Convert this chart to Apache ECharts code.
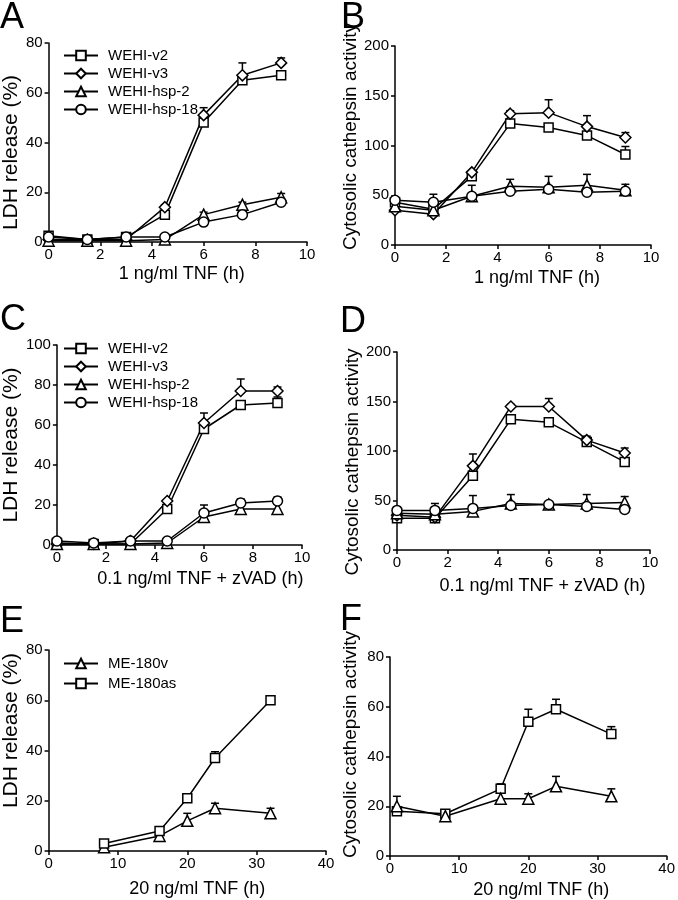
<!DOCTYPE html>
<html>
<head>
<meta charset="utf-8">
<script src="https://cdn.jsdelivr.net/npm/echarts@6/dist/echarts.min.js"></script>
<style>
html,body{margin:0;padding:0;background:#fff;}
#c{width:678px;height:900px;}
</style>
</head>
<body>
<div id="c"></div>
<script>
// ---------- DATA ----------
const xWEHI = [0, 1.5, 3, 4.5, 6, 7.5, 9];
const xME_E = [8, 16, 20, 24, 32];
const xME_F = [1, 8, 16, 20, 24, 32];

// Panel A: LDH release (%), 1 ng/ml TNF
const aV2 = [2.5, 1, 2, 11, 48, 65, 67];
const aV2Err = [0, 0, 0, 0, 0, 0, 1];
const aV3 = [1, 1, 1, 14, 51, 67, 72];
const aV3Err = [0, 0, 0, 1, 3, 5, 2];
const aH2 = [0.5, 0.5, 0.5, 1, 11, 15, 18];
const aH2Err = [0, 0, 0, 0, 1, 1, 1.5];
const aH18 = [2, 1, 2, 2, 8, 11, 16];
const aH18Err = [0, 0, 0, 0, 0, 0, 1];

// Panel B: cytosolic cathepsin activity, 1 ng/ml TNF
const bV2 = [43, 36, 69, 122, 118, 110, 91];
const bV2Err = [0, 0, 0, 3, 2, 2, 8];
const bV3 = [35, 31, 73, 132, 133, 119, 108];
const bV3Err = [0, 0, 0, 3, 13, 11, 5];
const bH2 = [39, 35, 49, 59, 58, 60, 55];
const bH2Err = [0, 0, 11, 7, 11, 11, 6];
const bH18 = [45, 43, 49, 54, 56, 53, 54];
const bH18Err = [3, 8, 0, 0, 0, 0, 0];

// Panel C: LDH release (%), 0.1 ng/ml TNF + zVAD
const cV2 = [1, 0.5, 0.5, 18, 58, 70, 71];
const cV2Err = [0, 0, 0, 0, 0, 2, 3];
const cV3 = [0.5, 0.5, 2, 22, 61, 77, 77];
const cV3Err = [0, 0, 0, 0, 5, 6, 2];
const cH2 = [0.5, 0.5, 0.5, 1, 14, 18, 18];
const cH2Err = [0, 0, 0, 0, 0, 0, 0];
const cH18 = [2, 1, 2, 2, 16, 21, 22];
const cH18Err = [0, 0, 0, 0, 4, 2, 2];

// Panel D: cytosolic cathepsin activity, 0.1 ng/ml TNF + zVAD
const dV2 = [32, 32, 75, 132, 129, 109, 89];
const dV2Err = [0, 0, 0, 4, 3, 0, 0];
const dV3 = [35, 33, 85, 145, 145, 111, 98];
const dV3Err = [0, 0, 12, 2, 8, 4, 5];
const dH2 = [37, 36, 39, 47, 46, 47, 48];
const dH2Err = [0, 0, 0, 9, 0, 9, 6];
const dH18 = [40, 40, 42, 45, 46, 44, 41];
const dH18Err = [0, 7, 13, 0, 2, 0, 0];

// Panel E: LDH release (%), 20 ng/ml TNF
const eV = [1.5, 6, 12, 17, 15];
const eVErr = [0, 0, 3, 2, 2];
const eAS = [3, 8, 21, 37, 60];
const eASErr = [0, 1, 0, 2.5, 0.5];

// Panel F: cytosolic cathepsin activity, 20 ng/ml TNF
const fAS = [18, 17, 27, 54, 59, 49];
const fASErr = [0, 1, 2, 5, 4, 3];
const fV = [20, 16, 23, 23, 28, 24];
const fVErr = [4, 0, 0, 2, 4, 3];

const namesWEHI = ['WEHI-v2', 'WEHI-v3', 'WEHI-hsp-2', 'WEHI-hsp-18'];
const namesME = ['ME-180v', 'ME-180as'];
const panelLetters = ['A', 'B', 'C', 'D', 'E', 'F'];
const xTitles = ['1 ng/ml TNF (h)', '1 ng/ml TNF (h)', '0.1 ng/ml TNF + zVAD (h)', '0.1 ng/ml TNF + zVAD (h)', '20 ng/ml TNF (h)', '20 ng/ml TNF (h)'];
const yTitles = ['LDH release (%)', 'Cytosolic cathepsin activity', 'LDH release (%)', 'Cytosolic cathepsin activity', 'LDH release (%)', 'Cytosolic cathepsin activity'];

// ---------- STYLE / LAYOUT ----------
const FONT = "'Liberation Sans', Arial, Helvetica, sans-serif";
const grids = [
  {left: 45, top: 43, width: 262, height: 199},
  {left: 395, top: 46, width: 256, height: 199},
  {left: 43, top: 345, width: 259, height: 200},
  {left: 397, top: 352, width: 253, height: 198},
  {left: 47, top: 650, width: 279, height: 201},
  {left: 390, top: 657, width: 278, height: 199}
];
const xAxisCfg = [
  {max: 10, interval: 2, gap: 23, shift: 8},
  {max: 10, interval: 2, gap: 24, shift: 28},
  {max: 10, interval: 2, gap: 25, shift: 42},
  {max: 10, interval: 2, gap: 27, shift: 38},
  {max: 40, interval: 10, gap: 29, shift: 20},
  {max: 40, interval: 10, gap: 25, shift: 26}
];
const yAxisCfg = [
  {max: 80, interval: 20, gap: 23, size: 21, pad: [0, 20, 0, 0]},
  {max: 200, interval: 50, gap: 34, size: 19, pad: [0, 0, 0, 18]},
  {max: 100, interval: 20, gap: 22, size: 21, pad: [0, 0, 0, 0]},
  {max: 200, interval: 50, gap: 34, size: 19, pad: [0, 22, 0, 0]},
  {max: 80, interval: 20, gap: 26, size: 21, pad: [0, 0, 0, 40]},
  {max: 80, interval: 20, gap: 30, size: 19, pad: [0, 0, 0, 24]}
];
const symbolOf = {
  'WEHI-v2': ['rect', 9], 'WEHI-v3': ['diamond', 11], 'WEHI-hsp-2': ['triangle', 11], 'WEHI-hsp-18': ['circle', 10],
  'ME-180v': ['triangle', 11], 'ME-180as': ['rect', 9]
};
const lettersPos = [[0, 0], [341, 0], [0, 302], [340, 304], [0, 604], [340, 602]];

const axisLineStyle = {color: '#000', width: 1.5};

const xAxes = xAxisCfg.map((c, i) => ({
  type: 'value', gridIndex: i, min: 0, max: c.max, interval: c.interval,
  name: xTitles[i], nameLocation: 'middle', nameGap: c.gap,
  nameTextStyle: {color: '#000', fontSize: 18, fontFamily: FONT, padding: [0, 0, 0, c.shift]},
  axisLine: {lineStyle: axisLineStyle}, axisTick: {length: 4, lineStyle: axisLineStyle},
  axisLabel: {color: '#000', fontSize: 15, fontFamily: FONT, margin: 5},
  splitLine: {show: false}
}));
const yAxes = yAxisCfg.map((c, i) => ({
  type: 'value', gridIndex: i, min: 0, max: c.max, interval: c.interval,
  name: yTitles[i], nameLocation: 'middle', nameGap: c.gap, nameRotate: 90,
  nameTextStyle: {color: '#000', fontSize: c.size, fontFamily: FONT, padding: c.pad},
  axisLine: {show: true, lineStyle: axisLineStyle}, axisTick: {show: true, length: 4, lineStyle: axisLineStyle},
  axisLabel: {color: '#000', fontSize: 15, fontFamily: FONT, margin: 6},
  splitLine: {show: false}
}));

const series = [];
function addPanel(idx, xs, names, ys, errs) {
  names.forEach((nm, k) => {
    const errData = xs.map((x, j) => [x, ys[k][j], ys[k][j] + errs[k][j]]);
    series.push({
      type: 'custom', xAxisIndex: idx, yAxisIndex: idx, z: 1, silent: true,
      encode: {x: 0, y: 1},
      renderItem: function (params, api) {
        const x = api.value(0), y = api.value(1), t = api.value(2);
        if (!(t > y)) return null;
        const p0 = api.coord([x, y]), p1 = api.coord([x, t]);
        return {type: 'group', children: [
          {type: 'line', shape: {x1: p0[0], y1: p0[1], x2: p1[0], y2: p1[1]}, style: {stroke: '#000', lineWidth: 1.5}},
          {type: 'line', shape: {x1: p1[0] - 4, y1: p1[1], x2: p1[0] + 4, y2: p1[1]}, style: {stroke: '#000', lineWidth: 1.5}}
        ]};
      },
      data: errData
    });
  });
  names.forEach((nm, k) => {
    const s = symbolOf[nm];
    series.push({
      type: 'line', name: nm, xAxisIndex: idx, yAxisIndex: idx, z: 3,
      symbol: s[0], symbolSize: s[1], showAllSymbol: true,
      lineStyle: {color: '#000', width: 1.5},
      itemStyle: {color: '#fff', borderColor: '#000', borderWidth: 1.5},
      emphasis: {disabled: true},
      data: xs.map((x, j) => [x, ys[k][j]])
    });
  });
}
addPanel(0, xWEHI, namesWEHI, [aV2, aV3, aH2, aH18], [aV2Err, aV3Err, aH2Err, aH18Err]);
addPanel(1, xWEHI, namesWEHI, [bV2, bV3, bH2, bH18], [bV2Err, bV3Err, bH2Err, bH18Err]);
addPanel(2, xWEHI, namesWEHI, [cV2, cV3, cH2, cH18], [cV2Err, cV3Err, cH2Err, cH18Err]);
addPanel(3, xWEHI, namesWEHI, [dV2, dV3, dH2, dH18], [dV2Err, dV3Err, dH2Err, dH18Err]);
addPanel(4, xME_E, namesME, [eV, eAS], [eVErr, eASErr]);
addPanel(5, xME_F, ['ME-180as', 'ME-180v'], [fAS, fV], [fASErr, fVErr]);

const legendBase = {
  orient: 'vertical', itemWidth: 34, itemHeight: 12, itemGap: 3, padding: 0,
  selectedMode: false,
  textStyle: {color: '#000', fontSize: 15, fontFamily: FONT, lineHeight: 15, padding: [0, 0, 0, 5]}
};
const legends = [
  Object.assign({}, legendBase, {left: 63, top: 48, data: namesWEHI}),
  Object.assign({}, legendBase, {left: 63, top: 341, data: namesWEHI}),
  Object.assign({}, legendBase, {left: 63, top: 656, itemGap: 5, data: namesME})
];

const graphics = panelLetters.map((L, i) => ({
  type: 'text', left: lettersPos[i][0], top: lettersPos[i][1],
  style: {text: L, fill: '#000', font: '36px ' + FONT}
}));

const chart = echarts.init(document.getElementById('c'), null, {renderer: 'canvas'});
chart.setOption({
  animation: false,
  backgroundColor: '#fff',
  grid: grids,
  xAxis: xAxes,
  yAxis: yAxes,
  legend: legends,
  graphic: graphics,
  series: series
});
</script>
</body>
</html>
